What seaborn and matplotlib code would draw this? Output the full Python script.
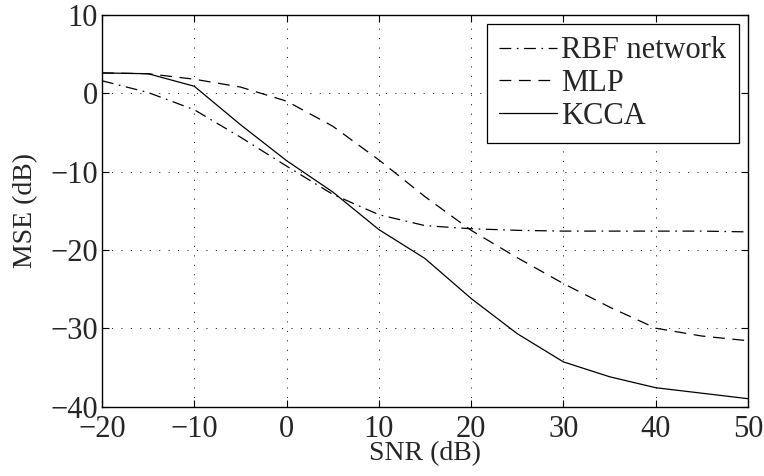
import pandas as pd
import matplotlib
matplotlib.use("Agg")
import matplotlib.pyplot as plt
import seaborn as sns

# values
snr = [-20, -15, -10, -5, 0, 5, 10, 15, 20, 25, 30, 35, 40, 45, 50]
mse_rbf = [1.6, 0.1, -2.1, -5.6, -9.3, -12.9, -15.5, -16.9, -17.3, -17.5, -17.6, -17.6, -17.6, -17.6, -17.7]
mse_mlp = [2.6, 2.5, 1.8, 0.8, -1.0, -4.2, -8.5, -13.2, -17.5, -21.0, -24.3, -27.3, -30.0, -31.0, -31.6]
mse_kcca = [2.6, 2.5, 0.9, -4.0, -8.6, -12.6, -17.4, -21.1, -26.2, -30.7, -34.3, -36.2, -37.6, -38.3, -39.0]

series_names = ["RBF network", "MLP", "KCCA"]
x_ticks = [-20, -10, 0, 10, 20, 30, 40, 50]
y_ticks = [-40, -30, -20, -10, 0, 10]

sns.set_style("ticks")
plt.rcParams["font.family"] = ["Liberation Serif", "DejaVu Serif"]
plt.rcParams["lines.scale_dashes"] = False
plt.rcParams["xtick.direction"] = "in"
plt.rcParams["ytick.direction"] = "in"
plt.rcParams["xtick.top"] = True
plt.rcParams["ytick.right"] = True

fig = plt.figure(figsize=(7.64, 4.76), dpi=100)
ax = fig.add_axes([0.1335, 0.146, 0.8455, 0.8225])

styles = [(0, (8.5, 4, 1.2, 4)), (0, (8.5, 5.5)), "-"]
for name, vals, ls in zip(series_names, [mse_rbf, mse_mlp, mse_kcca], styles):
    df = pd.DataFrame({"snr": snr, "mse": vals})
    sns.lineplot(data=df, x="snr", y="mse", ax=ax, color="black",
                 linewidth=0.9, linestyle=ls, label=name)

ax.set_xlim(-20, 50)
ax.set_ylim(-40, 10)
ax.set_xticks(x_ticks)
ax.set_yticks(y_ticks)
ax.tick_params(labelsize=22, length=5, width=0.8, color="black")
ax.tick_params(axis="x", pad=6)
ax.tick_params(axis="y", pad=3)
ax.grid(True, color="black", linestyle=(0, (0.8, 6)), linewidth=0.6)
for sp in ax.spines.values():
    sp.set_color("black")
    sp.set_linewidth(1.0)

ax.set_xlabel("SNR (dB)", fontsize=20, labelpad=-2)
ax.set_ylabel("MSE (dB)", fontsize=20, labelpad=9)

leg = ax.legend(loc="upper right", fontsize=22, fancybox=False, framealpha=1,
                edgecolor="black", borderaxespad=0.3, borderpad=0.4,
                labelspacing=0.12, handlelength=1.9, handletextpad=0.15)
leg.get_frame().set_linewidth(0.9)

fig.savefig("out.png", dpi=100)
